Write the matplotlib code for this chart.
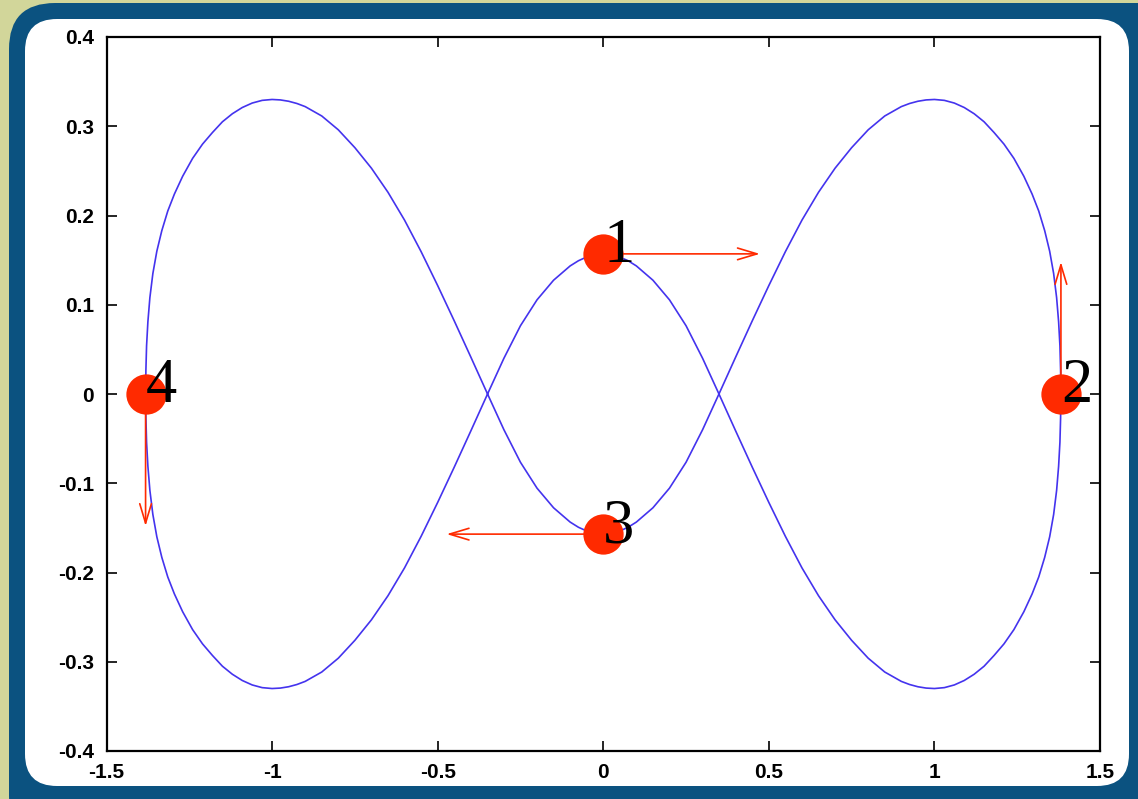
import matplotlib
matplotlib.use('Agg')
import matplotlib.pyplot as plt
from matplotlib.patches import FancyBboxPatch
import numpy as np

# one quarter of the orbit: from body 1 (top centre) down through the
# crossing and the lower right lobe up to body 2 (far right)
arc_x = [0.000, 0.025, 0.050, 0.075, 0.100, 0.150, 0.200, 0.250, 0.300,
         0.350, 0.400, 0.450, 0.500, 0.550, 0.600, 0.650, 0.700, 0.750,
         0.800, 0.850, 0.900, 0.925, 0.950, 0.975, 1.000, 1.030, 1.060,
         1.090, 1.120, 1.150, 1.180, 1.210, 1.240, 1.270, 1.295, 1.315,
         1.333, 1.348, 1.360, 1.369, 1.375, 1.379, 1.381, 1.382]
arc_y = [0.157, 0.156, 0.1535, 0.1493, 0.1435, 0.1275, 0.1055, 0.0765, 0.040,
         -0.0005, -0.0415, -0.082, -0.1215, -0.1595, -0.1948, -0.226, -0.253, -0.276,
         -0.296, -0.3115, -0.322, -0.3255, -0.328, -0.3295, -0.330, -0.329, -0.326,
         -0.321, -0.314, -0.305, -0.293, -0.280, -0.264, -0.244, -0.224, -0.205,
         -0.183, -0.160, -0.135, -0.108, -0.081, -0.054, -0.027, 0.000]

# bodies and their velocity vectors
body_x = [0.0, 1.382, 0.0, -1.382]
body_y = [0.157, 0.0, -0.157, 0.0]
body_names = ['1', '2', '3', '4']
vel_x = [0.473, 0.0, -0.473, 0.0]
vel_y = [0.0, 0.148, 0.0, -0.148]

xticks = [-1.5, -1, -0.5, 0, 0.5, 1, 1.5]
xtick_labels = ['-1.5', '-1', '-0.5', '0', '0.5', '1', '1.5']
yticks = [-0.4, -0.3, -0.2, -0.1, 0, 0.1, 0.2, 0.3, 0.4]
ytick_labels = ['-0.4', '-0.3', '-0.2', '-0.1', '0', '0.1', '0.2', '0.3', '0.4']

# the closed orbit, built from the quarter using the two mirror symmetries
ax_q = np.array(arc_x)
ay_q = np.array(arc_y)
orbit_x = np.concatenate([ax_q, ax_q[::-1], -ax_q, -ax_q[::-1]])
orbit_y = np.concatenate([ay_q, -ay_q[::-1], -ay_q, ay_q[::-1]])

W, H = 1138, 799
fig = plt.figure(figsize=(W / 100, H / 100), dpi=100)
fig.patch.set_facecolor('#d2d69a')

# rounded frame drawn in pixel units
bg = fig.add_axes([0, 0, 1, 1])
bg.set_xlim(0, W)
bg.set_ylim(H, 0)
bg.axis('off')
bg.add_patch(FancyBboxPatch((9, 3), W + 40, H + 40,
                            boxstyle='round,pad=0,rounding_size=46',
                            fc='#0b5280', ec='none'))
bg.add_patch(FancyBboxPatch((25, 19), 1104, 767,
                            boxstyle='round,pad=0,rounding_size=32',
                            fc='white', ec='none'))

ax = fig.add_axes([106.5 / W, 48 / H, (1100 - 106.5) / W, (751 - 37) / H])
ax.set_facecolor('white')
ax.plot(orbit_x, orbit_y, color='#4433ee', lw=1.2, zorder=2,
        solid_joinstyle='round')

for i in range(len(body_x)):
    ax.annotate('', xy=(body_x[i] + vel_x[i], body_y[i] + vel_y[i]),
                xytext=(body_x[i], body_y[i]),
                arrowprops=dict(arrowstyle='->,head_length=1.4,head_width=0.42',
                                color='#ff2a00', lw=1.2, shrinkA=0, shrinkB=0),
                zorder=3)

ax.plot(body_x, body_y, 'o', ms=29, color='#ff2a00', mec='none', zorder=4)

for i in range(len(body_x)):
    ax.annotate(body_names[i], xy=(body_x[i], body_y[i]),
                xytext=(0, -6), textcoords='offset points',
                ha='left', va='baseline', fontsize=45,
                family='Liberation Serif', color='black', zorder=5)

ax.set_xlim(-1.5, 1.5)
ax.set_ylim(-0.4, 0.4)
ax.set_xticks(xticks)
ax.set_xticklabels(xtick_labels)
ax.set_yticks(yticks)
ax.set_yticklabels(ytick_labels)
ax.tick_params(direction='in', length=7, width=1.2, top=True, right=True,
               labelsize=15, pad=9)
for lab in ax.get_xticklabels() + ax.get_yticklabels():
    lab.set_fontfamily('Liberation Sans')
    lab.set_fontweight('bold')
for sp in ax.spines.values():
    sp.set_linewidth(1.6)

fig.savefig('out.png', dpi=100, facecolor=fig.get_facecolor())
